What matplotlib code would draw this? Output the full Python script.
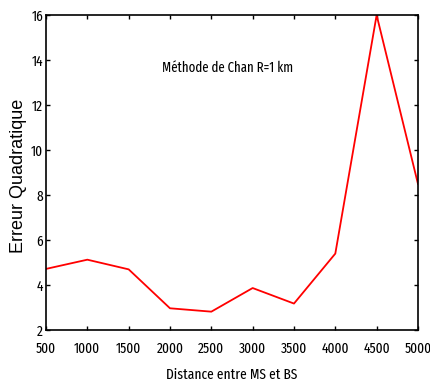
import numpy as np
import matplotlib.pyplot as plt

# distance between MS and BS, and squared error
distance = [500, 1000, 1500, 2000, 2500, 3000, 3500, 4000, 4500, 5000]
erreur = [4.72, 5.13, 4.7, 2.97, 2.82, 3.87, 3.18, 5.4, 16.0, 8.5]
x_ticks = [500, 1000, 1500, 2000, 2500, 3000, 3500, 4000, 4500, 5000]
y_ticks = [2, 4, 6, 8, 10, 12, 14, 16]

narrow = ['Fira Sans Extra Condensed', 'DejaVu Sans']

fig = plt.figure(figsize=(4.3, 3.87), dpi=100)
ax = fig.add_axes([0.107, 0.147, 0.865, 0.814])
ax.plot(distance, erreur, color='red', lw=1.3)
ax.set_xlim(500, 5000)
ax.set_ylim(2, 16)
ax.set_xticks(x_ticks)
ax.set_yticks(y_ticks)
ax.tick_params(direction='in', length=3, width=1, top=True, right=True, labelsize=10.5)
ax.tick_params(axis='x', pad=8)
ax.tick_params(axis='y', pad=2)
for lab in ax.get_xticklabels() + ax.get_yticklabels():
    lab.set_family(narrow)
for s in ax.spines.values():
    s.set_linewidth(1.2)

ax.set_xlabel('Distance entre MS et BS', family=narrow, fontsize=10.5, va='top')
ax.xaxis.set_label_coords(0.5, -0.12)
ax.set_ylabel('Erreur Quadratique', family='Liberation Sans', fontsize=13)
ax.yaxis.set_label_coords(-0.052, 0.49)
ax.text(1900, 13.65, 'Méthode de Chan R=1 km', family=narrow, fontsize=10,
        va='center', ha='left')

fig.savefig('out.png', dpi=100)
